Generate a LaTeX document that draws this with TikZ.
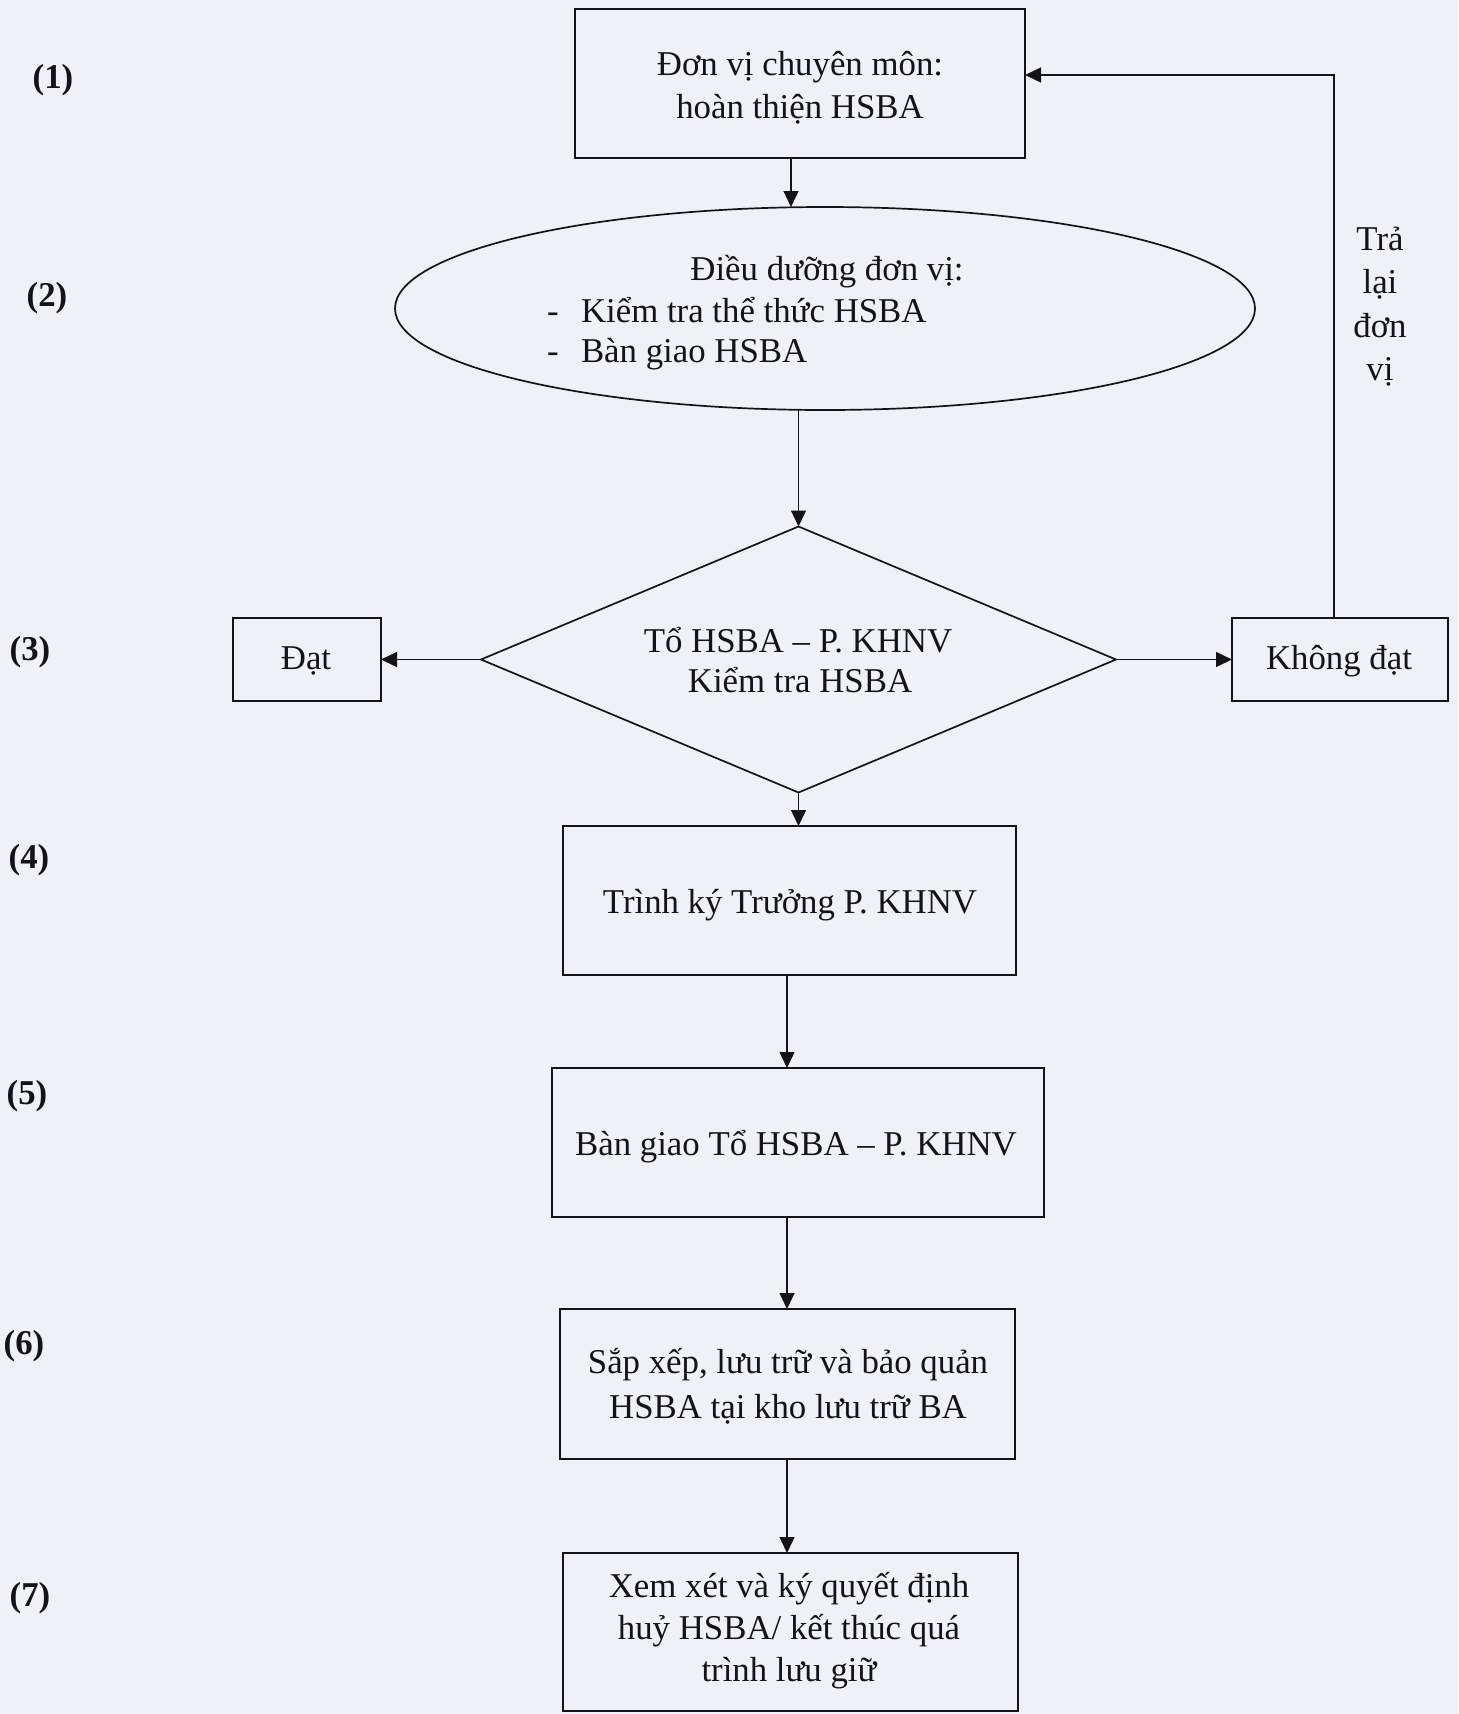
\documentclass[tikz,border=0pt]{standalone}
\usepackage{fontspec}
\setmainfont{Liberation Serif}
\usetikzlibrary{shapes.geometric,arrows.meta}
\definecolor{paper}{RGB}{239,241,246}
\definecolor{ink}{RGB}{20,20,24}
\tikzset{
  boxshape/.style={draw=ink, line width=0.85pt, inner sep=0pt, outer sep=0pt},
  txt/.style={inner sep=0pt, outer sep=0pt, text=ink, font=\fontsize{17.4pt}{21.5pt}\selectfont},
  lbl/.style={inner sep=0pt, text=ink, font=\fontsize{17.4pt}{21.5pt}\selectfont\bfseries},
  arr/.style={draw=ink, line width=0.65pt, -{Triangle[length=8pt,width=7.5pt]}},
  ln/.style={draw=ink, line width=0.65pt}
}
\begin{document}
\begin{tikzpicture}[x=0.5pt,y=-0.5pt]
\fill[paper] (0,0) rectangle (1458,1714);
\useasboundingbox (0,0) rectangle (1458,1714);

% shapes
\node[boxshape, minimum width=225pt, minimum height=74.5pt] (b1) at (800,83.5) {};
\node[boxshape, ellipse, minimum width=430pt, minimum height=101.5pt] (e2) at (825,308.5) {};
\node[boxshape, diamond, minimum width=317.5pt, minimum height=133pt] (d3) at (798.5,659.5) {};
\node[boxshape, minimum width=74pt, minimum height=41.5pt] (dat) at (307,659.5) {};
\node[boxshape, minimum width=108pt, minimum height=41.5pt] (kdat) at (1340,659.5) {};
\node[boxshape, minimum width=226.5pt, minimum height=74.5pt] (b4) at (789.5,900.5) {};
\node[boxshape, minimum width=246pt, minimum height=74.5pt] (b5) at (798,1142.5) {};
\node[boxshape, minimum width=227.5pt, minimum height=75pt] (b6) at (787.5,1384) {};
\node[boxshape, minimum width=227.5pt, minimum height=79pt] (b7) at (790.5,1632) {};

% texts
\node[txt, anchor=base] (t1a) at (800,75) {Đơn vị chuyên môn:};
\node[txt, anchor=base] (t1b) at (800,118) {hoàn thiện HSBA};
\node[txt, anchor=base] (t2a) at (827,280) {Điều dưỡng đơn vị:};
\node[txt, anchor=base west] (t2d1) at (547,322) {-};
\node[txt, anchor=base west] (t2b) at (581,322) {Kiểm tra thể thức HSBA};
\node[txt, anchor=base west] (t2d2) at (547,362) {-};
\node[txt, anchor=base west] (t2c) at (581,362) {Bàn giao HSBA};
\node[txt, anchor=base] (t3a) at (798,652) {Tổ HSBA – P. KHNV};
\node[txt, anchor=base] (t3b) at (800,692) {Kiểm tra HSBA};
\node[txt, anchor=base] (tdat) at (306,669) {Đạt};
\node[txt, anchor=base] (tkdat) at (1339,669) {Không đạt};
\node[txt, anchor=base] (tr1) at (1380,250) {Trả};
\node[txt, anchor=base] (tr2) at (1380,293) {lại};
\node[txt, anchor=base] (tr3) at (1380,337) {đơn};
\node[txt, anchor=base] (tr4) at (1380,380) {vị};
\node[txt, anchor=base] (t4) at (790,913) {Trình ký Trưởng P. KHNV};
\node[txt, anchor=base] (t5) at (796,1155) {Bàn giao Tổ HSBA – P. KHNV};
\node[txt, anchor=base] (t6a) at (788,1373) {Sắp xếp, lưu trữ và bảo quản};
\node[txt, anchor=base] (t6b) at (788,1418) {HSBA tại kho lưu trữ BA};
\node[txt, anchor=base] (t7a) at (789,1597) {Xem xét và ký quyết định};
\node[txt, anchor=base] (t7b) at (789,1639) {huỷ HSBA/ kết thúc quá};
\node[txt, anchor=base] (t7c) at (789,1681) {trình lưu giữ};

% step labels
\node[lbl] (n1) at (53,80) {(1)};
\node[lbl] (n2) at (47,298) {(2)};
\node[lbl] (n3) at (30,652) {(3)};
\node[lbl] (n4) at (29,860) {(4)};
\node[lbl] (n5) at (27,1096) {(5)};
\node[lbl] (n6) at (24,1346) {(6)};
\node[lbl] (n7) at (30,1598) {(7)};

% connectors
\coordinate (c1) at (791,0);
\coordinate (c3) at (787,0);
\coordinate (ret) at (1334,75);
\draw[arr] (b1.south -| c1) -- (e2.north -| c1);
\draw[arr] (e2.south -| d3.north) -- (d3.north);
\draw[arr] (d3.west) -- (dat.east);
\draw[arr] (d3.east) -- (kdat.west);
\draw[arr] (kdat.north -| ret) -- (ret) -- (b1.east |- ret);
\draw[arr] (d3.south) -- (d3.south |- b4.north);
\draw[arr] (b4.south -| c3) -- (b5.north -| c3);
\draw[arr] (b5.south -| c3) -- (b6.north -| c3);
\draw[arr] (b6.south -| c3) -- (b7.north -| c3);
\end{tikzpicture}
\end{document}
